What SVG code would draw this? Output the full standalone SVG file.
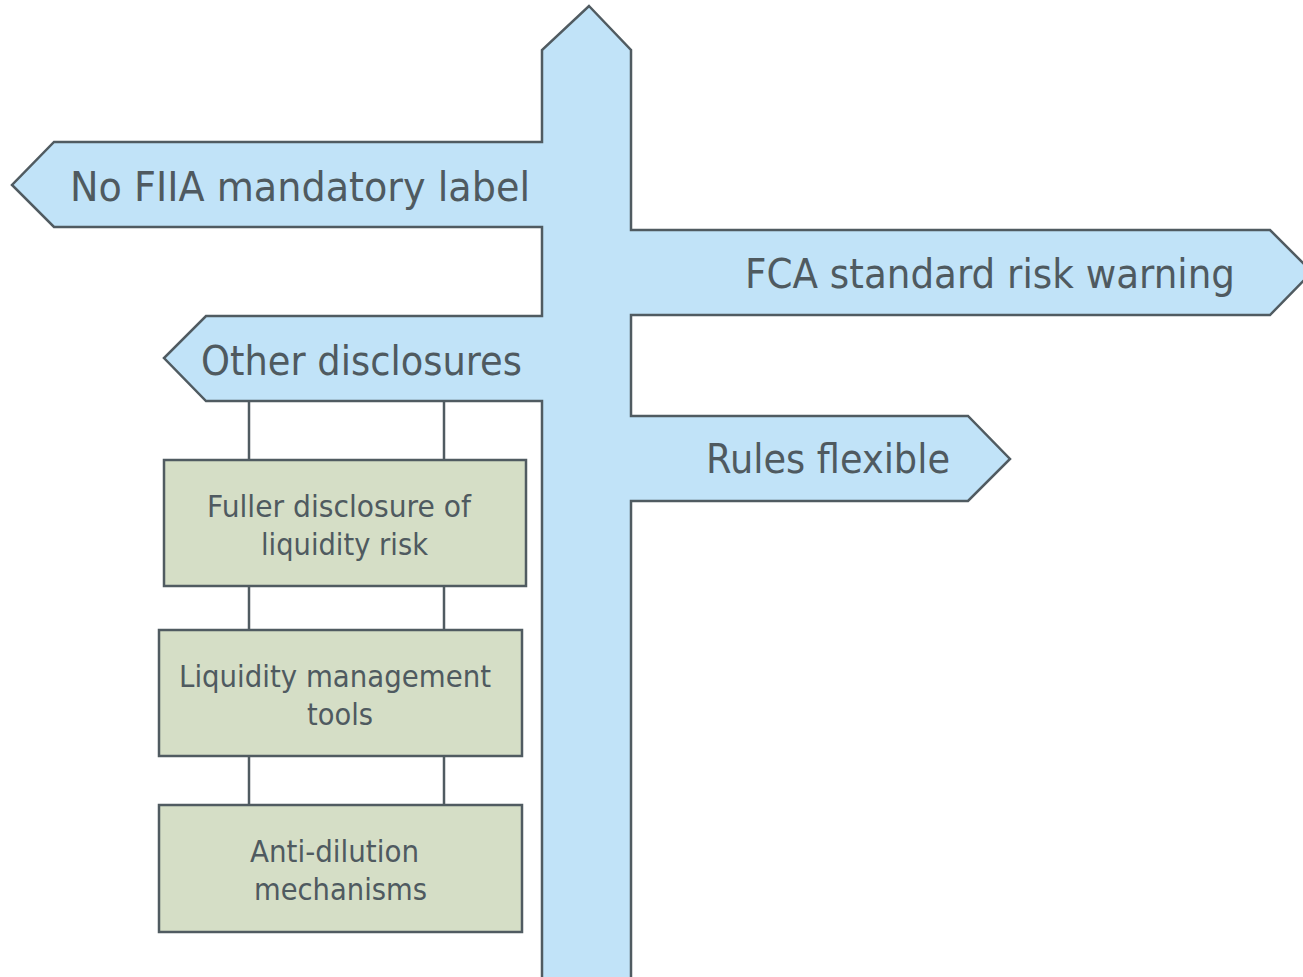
<svg xmlns="http://www.w3.org/2000/svg" width="1303" height="977" viewBox="0 0 1303 977">
  <style>
    .post { fill: #C1E3F8; stroke: #505B61; stroke-width: 2.5; stroke-linejoin: miter; }
    .box { fill: #D5DEC6; stroke: #505B61; stroke-width: 2.5; }
    .link { stroke: #505B61; stroke-width: 2.5; fill: none; }
    .sign { font-family: "DejaVu Sans", "Liberation Sans", sans-serif; font-size: 41px; fill: #4F5A60; }
    .item { font-family: "DejaVu Sans", "Liberation Sans", sans-serif; font-size: 31px; fill: #4F5A60; }
  </style>
  <rect width="1303" height="977" fill="#FFFFFF"/>

  <!-- signpost: pole and its four arms as one outline -->
  <g id="signpost">
    <path class="post" d="M589,6 L631,50 L631,230 L1270,230 L1312,272 L1270,315 L631,315 L631,416 L968,416 L1010,459 L968,501 L631,501 L631,990 L542,990 L542,401 L206,401 L164,358 L206,316 L542,316 L542,227 L54,227 L12,185 L54,142 L542,142 L542,50 Z"/>
  </g>

  <g id="sign-no-fiia">
    <text class="sign" x="70" y="201" textLength="460" lengthAdjust="spacingAndGlyphs">No FIIA mandatory label</text>
  </g>
  <g id="sign-fca">
    <text class="sign" x="745" y="288" textLength="490" lengthAdjust="spacingAndGlyphs">FCA standard risk warning</text>
  </g>
  <g id="sign-other">
    <text class="sign" x="201" y="375" textLength="321" lengthAdjust="spacingAndGlyphs">Other disclosures</text>
  </g>
  <g id="sign-rules">
    <text class="sign" x="706" y="473" textLength="244" lengthAdjust="spacingAndGlyphs">Rules flexible</text>
  </g>

  <!-- hanging chains between the boards -->
  <g id="connectors">
    <line class="link" x1="249" y1="401" x2="249" y2="460"/>
    <line class="link" x1="444" y1="401" x2="444" y2="460"/>
    <line class="link" x1="249" y1="586" x2="249" y2="630"/>
    <line class="link" x1="444" y1="586" x2="444" y2="630"/>
    <line class="link" x1="249" y1="756" x2="249" y2="805"/>
    <line class="link" x1="444" y1="756" x2="444" y2="805"/>
  </g>

  <g id="box-fuller">
    <rect class="box" x="164" y="460" width="362" height="126"/>
    <text class="item" x="207" y="517" textLength="264" lengthAdjust="spacingAndGlyphs">Fuller disclosure of</text>
    <text class="item" x="261" y="555" textLength="167" lengthAdjust="spacingAndGlyphs">liquidity risk</text>
  </g>
  <g id="box-tools">
    <rect class="box" x="159" y="630" width="363" height="126"/>
    <text class="item" x="179" y="687" textLength="312" lengthAdjust="spacingAndGlyphs">Liquidity management</text>
    <text class="item" x="307" y="725" textLength="66" lengthAdjust="spacingAndGlyphs">tools</text>
  </g>
  <g id="box-anti">
    <rect class="box" x="159" y="805" width="363" height="127"/>
    <text class="item" x="250" y="862" textLength="169" lengthAdjust="spacingAndGlyphs">Anti-dilution</text>
    <text class="item" x="254" y="900" textLength="173" lengthAdjust="spacingAndGlyphs">mechanisms</text>
  </g>
</svg>
